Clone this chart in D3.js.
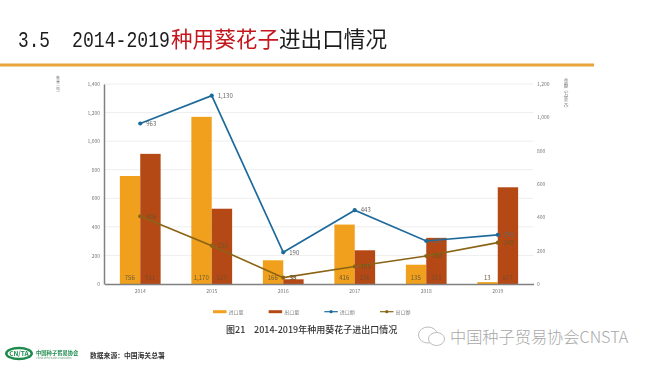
<!DOCTYPE html>
<html>
<head>
<meta charset="utf-8">
<script src="https://cdnjs.cloudflare.com/ajax/libs/d3/7.8.5/d3.min.js"></script>
<style>
  html, body { margin: 0; padding: 0; background: #fff; }
  svg { display: block; }
  text { font-family: "Noto Sans CJK SC", sans-serif; }
</style>
</head>
<body>
<svg id="chart"></svg>
<script>
var years = ["2014", "2015", "2016", "2017", "2018", "2019"];
var importQty = [756, 1170, 166, 416, 135, 13];
var exportQty = [911, 527, 33, 236, 323, 677];
var importAmt = [963, 1130, 190, 443, 258, 295];
var exportAmt = [406, 230, 38, 105, 168, 248];
var leftTicks = [0, 200, 400, 600, 800, 1000, 1200, 1400];
var rightTicks = [0, 200, 400, 600, 800, 1000, 1200];
var legendNames = ["进口量", "出口量", "进口额", "出口额"];

var width = 650, height = 365;
var svg = d3.select("#chart").attr("width", width).attr("height", height);

// soft edges, the reference is a scaled down screenshot
var defs = svg.append("defs");
defs.append("filter").attr("id", "soft").append("feGaussianBlur").attr("stdDeviation", 0.45);
defs.append("filter").attr("id", "softer").append("feGaussianBlur").attr("stdDeviation", 0.3);

// heading
var title = svg.append("text")
    .attr("x", 18).attr("y", 47)
    .attr("font-size", 21.6)
    .attr("fill", "#1c1c1c")
    .attr("filter", "url(#softer)");
title.append("tspan").attr("font-family", "Liberation Mono").attr("font-size", 22.5).attr("textLength", 32).attr("lengthAdjust", "spacingAndGlyphs").text("3.5");
title.append("tspan").attr("x", 72).attr("font-family", "Liberation Mono").attr("font-size", 22.5).attr("textLength", 98).attr("lengthAdjust", "spacingAndGlyphs").text("2014-2019");
title.append("tspan").attr("x", 171).attr("fill", "#c4161c").text("种用葵花子");
title.append("tspan").attr("x", 279).text("进出口情况");

svg.append("line")
    .attr("x1", 0).attr("x2", 594).attr("y1", 65).attr("y2", 65)
    .attr("stroke", "#e8a33a").attr("stroke-width", 3);

// scales
var x = d3.scaleBand().domain(years).range([104.5, 533.5]).paddingInner(0.43).paddingOuter(0.215);
var xSub = d3.scaleBand().domain(["imp", "exp"]).range([0, x.bandwidth()]);
var yL = d3.scaleLinear().domain([0, 1400]).range([284, 84]);
var yR = d3.scaleLinear().domain([0, 1200]).range([284, 84]);

var chart = svg.append("g").attr("filter", "url(#soft)");

// gridlines
chart.append("g").selectAll("line")
    .data(leftTicks.slice(1))
    .join("line")
    .attr("x1", 104).attr("x2", 533)
    .attr("y1", function(d) { return yL(d); })
    .attr("y2", function(d) { return yL(d); })
    .attr("stroke", "#eeeeee").attr("stroke-width", 1);

// bars
function bars(values, key, colour) {
    chart.append("g").selectAll("rect")
        .data(values)
        .join("rect")
        .attr("x", function(d, i) { return x(years[i]) + xSub(key); })
        .attr("width", xSub.bandwidth())
        .attr("y", function(d) { return yL(d); })
        .attr("height", function(d) { return yL(0) - yL(d); })
        .attr("fill", colour);
}
bars(importQty, "imp", "#f0a01a");
bars(exportQty, "exp", "#b54a16");

// axes
var axisL = chart.append("g").attr("transform", "translate(104,0)")
    .call(d3.axisLeft(yL).tickValues(leftTicks).tickSize(0).tickPadding(4).tickFormat(d3.format(",")));
var axisR = chart.append("g").attr("transform", "translate(533,0)")
    .call(d3.axisRight(yR).tickValues(rightTicks).tickSize(0).tickPadding(4).tickFormat(d3.format(",")));
var axisB = chart.append("g").attr("transform", "translate(0,284)")
    .call(d3.axisBottom(x).tickSize(0).tickPadding(5));
axisL.select(".domain").attr("stroke", "#808080").attr("stroke-width", 1.5);
axisR.select(".domain").remove();
axisB.select(".domain").attr("stroke", "#808080").attr("stroke-width", 1.5);
[axisL, axisR, axisB].forEach(function(a) {
    a.selectAll("text").attr("font-size", 5).attr("fill", "#777");
});

// lines
var centre = function(i) { return x(years[i]) + x.bandwidth() / 2; };
function lineSeries(values, colour) {
    var line = d3.line()
        .x(function(d, i) { return centre(i); })
        .y(function(d) { return yR(d); });
    chart.append("path")
        .datum(values)
        .attr("fill", "none")
        .attr("stroke", colour)
        .attr("stroke-width", 1.7)
        .attr("d", line);
    chart.append("g").selectAll("circle")
        .data(values)
        .join("circle")
        .attr("cx", function(d, i) { return centre(i); })
        .attr("cy", function(d) { return yR(d); })
        .attr("r", 2.1)
        .attr("fill", colour);
}
lineSeries(importAmt, "#1f6a9c");
lineSeries(exportAmt, "#8a6414");

// value labels
function labels(values, yFn, dx, dy, anchor, colour) {
    chart.append("g").selectAll("text")
        .data(values)
        .join("text")
        .attr("x", function(d, i) { return centre(i) + dx; })
        .attr("y", function(d) { return yFn(d) + dy; })
        .attr("text-anchor", anchor)
        .attr("font-size", 6)
        .attr("fill", colour)
        .text(d3.format(","));
}
var yBase = function() { return 280; };
labels(importQty, yBase, -10.5, 0, "middle", "#6b5a3a");
labels(exportQty, yBase, 10, 0, "middle", "#7c4a2a");
labels(importAmt, yR, 6, 2.2, "start", "#666");
labels(exportAmt, yR, 6, 2.2, "start", "#6e5520");

// axis units
chart.append("text").attr("x", 58).attr("y", 85).attr("font-size", 3.6).attr("fill", "#777")
    .attr("text-anchor", "middle").attr("writing-mode", "vertical-rl").attr("text-orientation", "upright").text("数量（吨）");
chart.append("text").attr("x", 566).attr("y", 94).attr("font-size", 4.6).attr("fill", "#777")
    .attr("text-anchor", "middle").attr("writing-mode", "vertical-rl").attr("text-orientation", "upright").text("金额（万美元）");

// legend
var legendColours = ["#f0a01a", "#b54a16", "#1f6a9c", "#8a6414"];
var legendX = d3.scalePoint().domain(legendNames).range([213, 380]);
var legend = chart.append("g").selectAll("g")
    .data(legendNames)
    .join("g")
    .attr("transform", function(d) { return "translate(" + legendX(d) + ",311.7)"; });
legend.append("line")
    .attr("x1", 0).attr("x2", 13.5)
    .attr("stroke", function(d, i) { return legendColours[i]; })
    .attr("stroke-width", function(d, i) { return i < 2 ? 3 : 1.2; });
legend.filter(function(d, i) { return i >= 2; }).append("circle")
    .attr("cx", 6.75).attr("r", 1.6)
    .attr("fill", function(d) { return legendColours[legendNames.indexOf(d)]; });
legend.append("text")
    .attr("x", 15.5).attr("y", 2)
    .attr("font-size", 5).attr("fill", "#888")
    .text(function(d) { return d; });

// caption and source
var caption = svg.append("text").attr("x", 226).attr("y", 333)
    .attr("font-size", 9).attr("fill", "#333").attr("font-weight", 500)
    .attr("filter", "url(#softer)");
caption.append("tspan").text("图21");
caption.append("tspan").attr("x", 254).text("2014-2019年种用葵花子进出口情况");
svg.append("text").attr("x", 90).attr("y", 358)
    .attr("font-size", 6.8).attr("fill", "#333").attr("font-weight", 700)
    .attr("filter", "url(#softer)")
    .text("数据来源：中国海关总署");

// logo
var logo = svg.append("g").attr("filter", "url(#softer)");
logo.append("ellipse").attr("cx", 19).attr("cy", 353.5).attr("rx", 14).attr("ry", 6.7)
    .attr("fill", "#1d8a4c");
logo.append("ellipse").attr("cx", 19).attr("cy", 353.5).attr("rx", 11.5).attr("ry", 4.3)
    .attr("fill", "#fff");
logo.append("text").attr("x", 19).attr("y", 356).attr("text-anchor", "middle")
    .attr("font-size", 6.5).attr("font-weight", 700).attr("fill", "#1d8a4c").text("CN/TA");
logo.append("text").attr("x", 36).attr("y", 354.5)
    .attr("font-size", 5.3).attr("font-weight", 700).attr("fill", "#1d8a4c").text("中国种子贸易协会");
logo.append("text").attr("x", 36).attr("y", 358.5)
    .attr("font-size", 2.6).attr("fill", "#6a9a7a").text("China Seed Trade Association");

// watermark
var mark = svg.append("g").attr("fill", "none").attr("stroke", "#b4b4b4").attr("stroke-width", 0.9);
mark.append("ellipse").attr("cx", 428).attr("cy", 335).attr("rx", 9.5).attr("ry", 8);
mark.append("ellipse").attr("cx", 436.5).attr("cy", 339).attr("rx", 8).attr("ry", 6.5).attr("fill", "#fff");
svg.append("text").attr("x", 450).attr("y", 342.5)
    .attr("font-size", 16.2).attr("fill", "#a8a8a8").attr("font-weight", 300)
    .text("中国种子贸易协会CNSTA");
</script>
</body>
</html>
